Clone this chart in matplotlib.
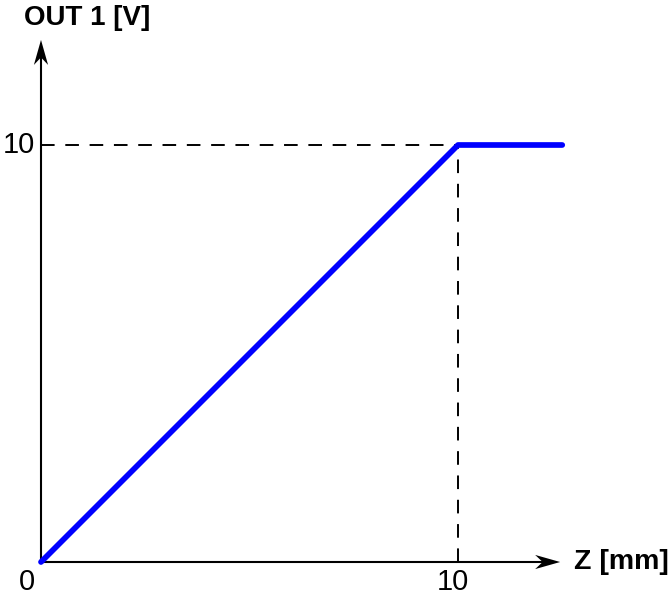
import matplotlib.pyplot as plt
from matplotlib.patches import Polygon

plt.rcParams['font.family'] = ['Liberation Sans', 'DejaVu Sans']

# curve data
z_mm = [0, 10, 12.5]
out_v = [0, 10, 10]
x_ticks = [0, 10]
y_ticks = [10]
x_label = 'Z [mm]'
y_label = 'OUT 1 [V]'
x_end = 12.45
y_end = 12.52

fig = plt.figure(figsize=(6.71, 6.01), dpi=100)
ax = fig.add_axes([0, 0, 1, 1])
ax.set_xlim(-0.983, 15.108)
ax.set_ylim(-0.935, 13.477)
ax.axis('off')


def arrow_head(tip, direction):
    # stealth style head, sizes in data units (~41.7 px per unit)
    L, W, N = 0.6, 0.17, 0.42
    tx, ty = tip
    dx, dy = direction
    px, py = -dy, dx
    pts = [(tx, ty),
           (tx - L * dx + W * px, ty - L * dy + W * py),
           (tx - N * dx, ty - N * dy),
           (tx - L * dx - W * px, ty - L * dy - W * py)]
    ax.add_patch(Polygon(pts, closed=True, color='black', lw=0, zorder=3))


# axes with arrows
ax.plot([0, x_end - 0.4], [0, 0], color='black', lw=1.5, solid_capstyle='butt')
ax.plot([0, 0], [0, y_end - 0.4], color='black', lw=1.5, solid_capstyle='butt')
arrow_head((x_end, 0), (1, 0))
arrow_head((0, y_end), (0, 1))

# dashed guides
ax.plot([0, 10], [10, 10], color='black', lw=1.4, ls=(0, (7, 5.5)))
ax.plot([10, 10], [0, 10], color='black', lw=1.4, ls=(0, (7, 5.5)))

# characteristic
ax.plot(z_mm, out_v, color='#0000ff', lw=4.1, solid_capstyle='round',
        solid_joinstyle='round', zorder=5)

# tick labels
ax.text(-0.34, -0.48, str(x_ticks[0]), fontsize=21, ha='center', va='center')
ax.text(x_ticks[1] - 0.12, -0.48, str(x_ticks[1]), fontsize=21, ha='center', va='center')
ax.text(-0.14, y_ticks[0], str(y_ticks[0]), fontsize=21, ha='right', va='center')

# axis labels
ax.text(12.78, 0, x_label, fontsize=20.5, fontweight='bold', ha='left', va='center')
ax.text(-0.4, 13.05, y_label, fontsize=20, fontweight='bold', ha='left', va='center')

fig.savefig('out.png', dpi=100)
